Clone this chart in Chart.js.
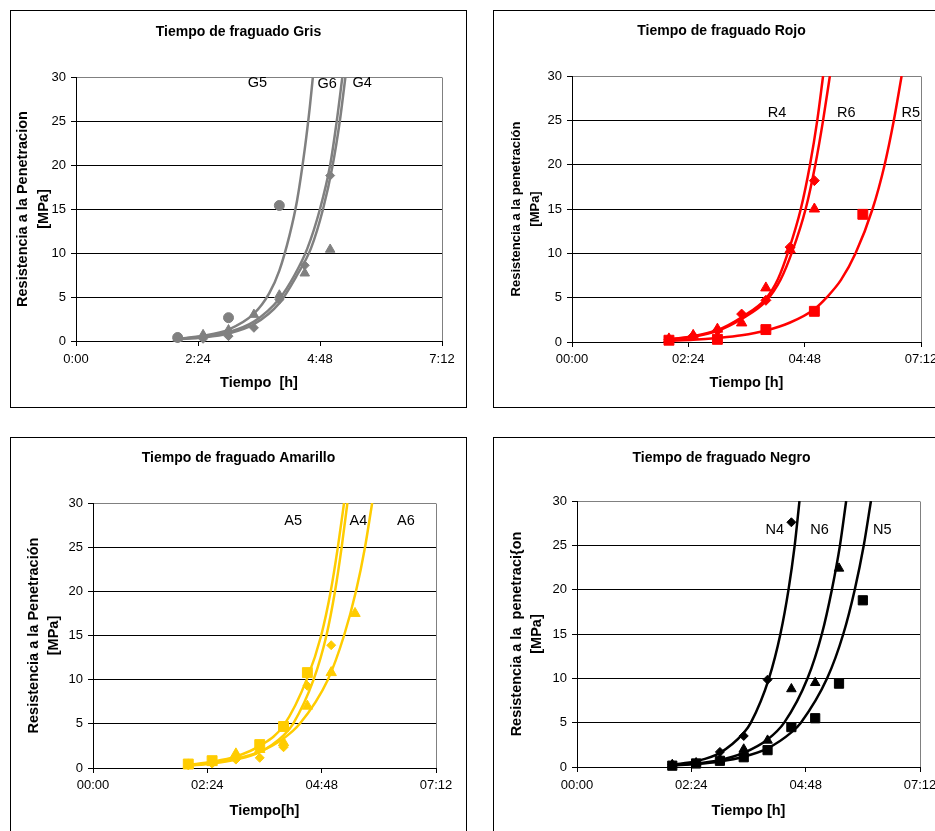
<!DOCTYPE html>
<html>
<head>
<meta charset="utf-8">
<script src="https://cdn.jsdelivr.net/npm/chart.js@4.4.0/dist/chart.umd.min.js"></script>
<style>
html, body { margin:0; padding:0; background:#fff; width:935px; height:831px; overflow:hidden; }
.panel { position:absolute; width:457px; height:398px; border:1px solid #000; box-sizing:border-box; background:#fff; }
.panel canvas { position:absolute; left:0; top:0; width:455px; height:396px; }
</style>
</head>
<body>
<div class="panel" style="left:10px; top:10px;"><canvas id="cGris" width="455" height="396"></canvas></div>
<div class="panel" style="left:493px; top:10px;"><canvas id="cRojo" width="455" height="396"></canvas></div>
<div class="panel" style="left:10px; top:437px;"><canvas id="cAmarillo" width="455" height="396"></canvas></div>
<div class="panel" style="left:493px; top:437px;"><canvas id="cNegro" width="455" height="396"></canvas></div>
<script>
// ---------- shared axis data ----------
const xTickHours = [0, 2.4, 4.8, 7.2];
const xTickLabelsGris = ['0:00', '2:24', '4:48', '7:12'];
const xTickLabelsOtros = ['00:00', '02:24', '04:48', '07:12'];

// ---------- Gris ----------
const g4Time = [2.0, 2.5, 3.0, 3.5, 4.0, 4.5, 5.0];
const g4Res  = [0.3, 0.25, 0.55, 1.5, 4.7, 8.6, 18.8];
const g5Time = [2.0, 3.0, 4.0];
const g5Res  = [0.4, 2.65, 15.4];
const g6Time = [2.0, 2.5, 3.0, 3.5, 4.0, 4.5, 5.0];
const g6Res  = [0.3, 0.7, 1.25, 3.0, 5.2, 7.7, 10.4];
const g5FitTime = [2.0, 2.5, 3.0, 3.5, 3.8, 4.0, 4.2, 4.35, 4.5, 4.6, 4.66];
const g5FitRes  = [0.25, 0.6, 1.3, 3.1, 5.4, 8.0, 12, 16, 21.8, 26.6, 30];
const g6FitTime = [2.0, 2.5, 3.0, 3.5, 4.0, 4.3, 4.55, 4.8, 5.0, 5.13, 5.24];
const g6FitRes  = [0.25, 0.5, 1.0, 2.2, 4.8, 7.5, 10.5, 15, 20, 25, 30];
const g4FitTime = [2.0, 2.5, 3.0, 3.5, 4.0, 4.35, 4.62, 4.86, 5.05, 5.19, 5.30];
const g4FitRes  = [0.2, 0.4, 0.85, 1.9, 4.3, 7.5, 10.5, 15, 20, 25, 30];
const grisLabelText = ['G5', 'G6', 'G4'];
const grisLabelTime = [3.57, 4.94, 5.63];
const grisLabelRes  = [29.3, 29.2, 29.3];

// ---------- Rojo ----------
const r4Time = [2.0, 2.5, 3.0, 3.5, 4.0, 4.5, 5.0];
const r4Res  = [0.3, 0.68, 1.3, 3.15, 4.7, 10.7, 18.2];
const r6Time = [2.0, 2.5, 3.0, 3.5, 4.0, 4.5, 5.0];
const r6Res  = [0.35, 0.75, 1.45, 2.15, 6.1, 10.4, 15.0];
const r5Time = [2.0, 3.0, 4.0, 5.0, 6.0];
const r5Res  = [0.2, 0.3, 1.4, 3.46, 14.4];
const r4FitTime = [2.0, 2.5, 3.0, 3.5, 4.0, 4.25, 4.48, 4.72, 4.91, 5.06, 5.18];
const r4FitRes  = [0.3, 0.65, 1.35, 2.8, 4.9, 7.1, 10.5, 15, 20, 25, 30];
const r6FitTime = [2.0, 2.5, 3.0, 3.5, 4.0, 4.3, 4.55, 4.82, 5.02, 5.18, 5.32];
const r6FitRes  = [0.3, 0.6, 1.25, 2.6, 4.6, 7.0, 10.3, 15, 20, 25, 30];
const r5FitTime = [2.0, 2.5, 3.0, 3.5, 4.0, 4.5, 5.0, 5.25, 5.55, 5.85, 6.2, 6.45, 6.64, 6.80];
const r5FitRes  = [0.15, 0.25, 0.45, 0.75, 1.3, 2.2, 3.7, 5, 7, 10, 15, 20, 25, 30];
const rojoLabelText = ['R4', 'R6', 'R5'];
const rojoLabelTime = [4.23, 5.66, 6.99];
const rojoLabelRes  = [25.8, 25.8, 25.8];

// ---------- Amarillo ----------
const a5Time = [2.0, 2.5, 3.5, 4.0, 4.5];
const a5Res  = [0.45, 0.83, 2.65, 4.7, 10.8];
const a4Time = [2.0, 2.5, 3.0, 3.5, 4.0, 4.5, 5.0];
const a4Res  = [0.3, 0.5, 0.95, 1.15, 2.35, 9.3, 13.9];
const a6Time = [2.0, 2.5, 3.0, 3.5, 4.0, 4.5, 5.0, 5.5];
const a6Res  = [0.35, 0.65, 1.6, 2.1, 2.85, 7.0, 10.8, 17.5];
const a5FitTime = [2.0, 2.5, 3.0, 3.5, 4.0, 4.5, 4.79, 4.99, 5.14, 5.27];
const a5FitRes  = [0.35, 0.7, 1.3, 2.5, 4.8, 10.2, 15, 20, 25, 30];
const a4FitTime = [2.0, 2.5, 3.0, 3.5, 4.0, 4.2, 4.63, 4.9, 5.08, 5.22, 5.34];
const a4FitRes  = [0.25, 0.5, 0.95, 1.8, 3.7, 5, 10, 15, 20, 25, 30];
const a6FitTime = [2.0, 2.5, 3.0, 3.5, 4.0, 4.34, 4.93, 5.27, 5.52, 5.71, 5.86];
const a6FitRes  = [0.3, 0.57, 1.03, 1.85, 3.35, 5, 10, 15, 20, 25, 30];
const amarilloLabelText = ['A5', 'A4', 'A6'];
const amarilloLabelTime = [4.2, 5.57, 6.57];
const amarilloLabelRes  = [28.0, 28.0, 28.0];

// ---------- Negro ----------
const n4Time = [2.0, 2.5, 3.0, 3.5, 4.0, 4.5];
const n4Res  = [0.26, 0.5, 1.7, 3.5, 9.85, 27.6];
const n6Time = [2.0, 2.5, 3.0, 3.5, 4.0, 4.5, 5.0, 5.5];
const n6Res  = [0.26, 0.45, 0.85, 2.0, 3.0, 8.8, 9.5, 22.4];
const n5Time = [2.0, 2.5, 3.0, 3.5, 4.0, 4.5, 5.0, 5.5, 6.0];
const n5Res  = [0.15, 0.4, 0.7, 1.1, 1.9, 4.5, 5.5, 9.4, 18.8];
const n4FitTime = [2.0, 2.5, 3.0, 3.5, 3.65, 4.03, 4.27, 4.44, 4.57, 4.67];
const n4FitRes  = [0.27, 0.66, 1.6, 3.85, 5, 10, 15, 20, 25, 30];
const n6FitTime = [2.0, 2.5, 3.0, 3.5, 4.0, 4.35, 4.84, 5.14, 5.35, 5.52, 5.65];
const n6FitRes  = [0.2, 0.4, 0.8, 1.6, 3.1, 5, 10, 15, 20, 25, 30];
const n5FitTime = [2.0, 2.5, 3.0, 3.5, 4.0, 4.5, 4.7, 5.25, 5.59, 5.83, 6.02, 6.17];
const n5FitRes  = [0.18, 0.34, 0.63, 1.16, 2.1, 3.9, 5, 10, 15, 20, 25, 30];
const negroLabelText = ['N4', 'N6', 'N5'];
const negroLabelTime = [4.15, 5.09, 6.41];
const negroLabelRes  = [26.7, 26.7, 26.7];

// ---------- rendering ----------
const FONT = "'Liberation Sans', Arial, Helvetica, sans-serif";
Chart.defaults.font.family = FONT;
Chart.defaults.color = '#000';

function pts(xs, ys) { return xs.map((x, i) => ({ x: x, y: ys[i] })); }

function titlePlugin(text, y, size) {
  return {
    id: 'panelTitle',
    afterDraw(chart) {
      const ctx = chart.ctx;
      ctx.save();
      ctx.font = 'bold ' + size + 'px ' + FONT;
      ctx.fillStyle = '#000';
      ctx.textAlign = 'center';
      ctx.textBaseline = 'middle';
      ctx.fillText(text, chart.width / 2, y);
      ctx.restore();
    }
  };
}

const framePlugin = {
  id: 'plotFrame',
  beforeDatasetsDraw(chart) {
    const a = chart.chartArea, ctx = chart.ctx;
    ctx.save();
    ctx.strokeStyle = '#808080';
    ctx.lineWidth = 1;
    ctx.beginPath();
    const xr = Math.round(a.right) + 0.5;
    ctx.moveTo(xr, Math.round(a.top) + 0.5);
    ctx.lineTo(xr, Math.round(a.bottom));
    ctx.stroke();
    ctx.restore();
  }
};

function labelsPlugin(texts, xs, ys, size) {
  return {
    id: 'curveLabels',
    afterDatasetsDraw(chart) {
      const ctx = chart.ctx, sx = chart.scales.x, sy = chart.scales.y;
      ctx.save();
      ctx.font = size + 'px ' + FONT;
      ctx.fillStyle = '#000';
      ctx.textAlign = 'center';
      ctx.textBaseline = 'middle';
      texts.forEach((t, i) => ctx.fillText(t, sx.getPixelForValue(xs[i]), sy.getPixelForValue(ys[i])));
      ctx.restore();
    }
  };
}

function makeChart(id, s) {
  const W = 455, H = 396;
  const datasets = [];
  s.markers.forEach(m => datasets.push({
    data: pts(m.x, m.y), showLine: false, pointStyle: m.style, pointRadius: m.r, pointHoverRadius: m.r,
    backgroundColor: s.color, borderColor: s.color, pointBorderWidth: 1, clip: false, order: 0
  }));
  s.curves.forEach(c => datasets.push({
    data: pts(c.x, c.y), showLine: true, pointRadius: 0, pointHoverRadius: 0, borderColor: s.color,
    backgroundColor: s.color, borderWidth: 2.5, cubicInterpolationMode: 'monotone', fill: false, order: 1
  }));
  new Chart(document.getElementById(id), {
    type: 'scatter',
    data: { datasets: datasets },
    options: {
      responsive: false, animation: false, events: [],
      layout: { padding: { left: 0, top: s.area.top, right: W - s.area.right, bottom: 0 } },
      plugins: { legend: { display: false }, tooltip: { enabled: false }, title: { display: false } },
      scales: {
        x: {
          type: 'linear', min: 0, max: 7.2,
          afterBuildTicks: sc => { sc.ticks = xTickHours.map(v => ({ value: v })); },
          afterFit: sc => { sc.height = H - s.area.bottom; },
          ticks: { callback: (v, i) => s.xLabels[i], autoSkip: false, maxRotation: 0, minRotation: 0,
                   font: { size: 13 }, color: '#000', padding: s.xTickPad },
          grid: { display: true, drawOnChartArea: false, drawTicks: true, tickLength: 5, color: '#000', tickColor: '#000' },
          border: { display: true, color: '#000', width: 1 },
          title: { display: true, text: s.xTitle, color: '#000', font: { size: 14.5, weight: 'bold' },
                   padding: { top: 0, bottom: s.xTitlePad } }
        },
        y: {
          type: 'linear', min: 0, max: 30,
          afterFit: sc => { sc.width = s.area.left; },
          ticks: { stepSize: 5, font: { size: 13 }, color: '#000', padding: 5 },
          grid: { color: ctx => (ctx.tick && ctx.tick.value === 30) ? '#808080' : '#000',
                  tickColor: '#000', tickLength: 5, lineWidth: 1 },
          border: { display: true, color: '#000', width: 1 },
          title: { display: true, text: s.yTitle, color: '#000',
                   font: { size: s.yTitleSize, weight: 'bold', lineHeight: s.yTitleLH + 'px' },
                   padding: { top: s.yTitlePad, bottom: 0 } }
        }
      }
    },
    plugins: [titlePlugin(s.title, s.titleY, 14), framePlugin, labelsPlugin(s.labels, s.labelX, s.labelY, 14.5)]
  });
}

makeChart('cGris', {
  title: 'Tiempo de fraguado Gris', titleY: 20.7, color: '#808080',
  area: { left: 65, right: 431, top: 66, bottom: 330 },
  xLabels: xTickLabelsGris, xTickPad: 6, xTitle: 'Tiempo  [h]', xTitlePad: 15,
  yTitle: ['Resistencia a la Penetracion', '[MPa]'], yTitleSize: 14.5, yTitleLH: 21, yTitlePad: 1.2,
  markers: [
    { x: g4Time, y: g4Res, style: 'rectRot', r: 4.5 },
    { x: g6Time, y: g6Res, style: 'triangle', r: 5.5 },
    { x: g5Time, y: g5Res, style: 'circle', r: 5 }
  ],
  curves: [
    { x: g5FitTime, y: g5FitRes }, { x: g6FitTime, y: g6FitRes }, { x: g4FitTime, y: g4FitRes }
  ],
  labels: grisLabelText, labelX: grisLabelTime, labelY: grisLabelRes
});

makeChart('cRojo', {
  title: 'Tiempo de fraguado Rojo', titleY: 20.5, color: '#FF0000',
  area: { left: 78, right: 427, top: 65, bottom: 331 },
  xLabels: xTickLabelsOtros, xTickPad: 5, xTitle: 'Tiempo [h]', xTitlePad: 15,
  yTitle: ['Resistencia a la penetración', '[MPa]'], yTitleSize: 13, yTitleLH: 19.4, yTitlePad: 12.6,
  markers: [
    { x: r5Time, y: r5Res, style: 'rect', r: 7 },
    { x: r6Time, y: r6Res, style: 'triangle', r: 6 },
    { x: r4Time, y: r4Res, style: 'rectRot', r: 5 }
  ],
  curves: [
    { x: r4FitTime, y: r4FitRes }, { x: r6FitTime, y: r6FitRes }, { x: r5FitTime, y: r5FitRes }
  ],
  labels: rojoLabelText, labelX: rojoLabelTime, labelY: rojoLabelRes
});

makeChart('cAmarillo', {
  title: 'Tiempo de fraguado Amarillo', titleY: 20.3, color: '#FFCC00',
  area: { left: 82, right: 425, top: 65, bottom: 330 },
  xLabels: xTickLabelsOtros, xTickPad: 5, xTitle: 'Tiempo[h]', xTitlePad: 14.3,
  yTitle: ['Resistencia a la Penetración', '[MPa]'], yTitleSize: 14.5, yTitleLH: 20.3, yTitlePad: 12.8,
  markers: [
    { x: a6Time, y: a6Res, style: 'triangle', r: 6 },
    { x: a4Time, y: a4Res, style: 'rectRot', r: 4.5 },
    { x: a5Time, y: a5Res, style: 'rect', r: 7 }
  ],
  curves: [
    { x: a5FitTime, y: a5FitRes }, { x: a4FitTime, y: a4FitRes }, { x: a6FitTime, y: a6FitRes }
  ],
  labels: amarilloLabelText, labelX: amarilloLabelTime, labelY: amarilloLabelRes
});

makeChart('cNegro', {
  title: 'Tiempo de fraguado Negro', titleY: 20.3, color: '#000000',
  area: { left: 83, right: 426, top: 63, bottom: 329 },
  xLabels: xTickLabelsOtros, xTickPad: 6, xTitle: 'Tiempo [h]', xTitlePad: 14.3,
  yTitle: ['Resistencia a la  penetraci{on', '[MPa]'], yTitleSize: 14.5, yTitleLH: 20, yTitlePad: 13,
  markers: [
    { x: n5Time, y: n5Res, style: 'rect', r: 6.5 },
    { x: n6Time, y: n6Res, style: 'triangle', r: 5.5 },
    { x: n4Time, y: n4Res, style: 'rectRot', r: 4.5 }
  ],
  curves: [
    { x: n4FitTime, y: n4FitRes }, { x: n6FitTime, y: n6FitRes }, { x: n5FitTime, y: n5FitRes }
  ],
  labels: negroLabelText, labelX: negroLabelTime, labelY: negroLabelRes
});
</script>
</body>
</html>
